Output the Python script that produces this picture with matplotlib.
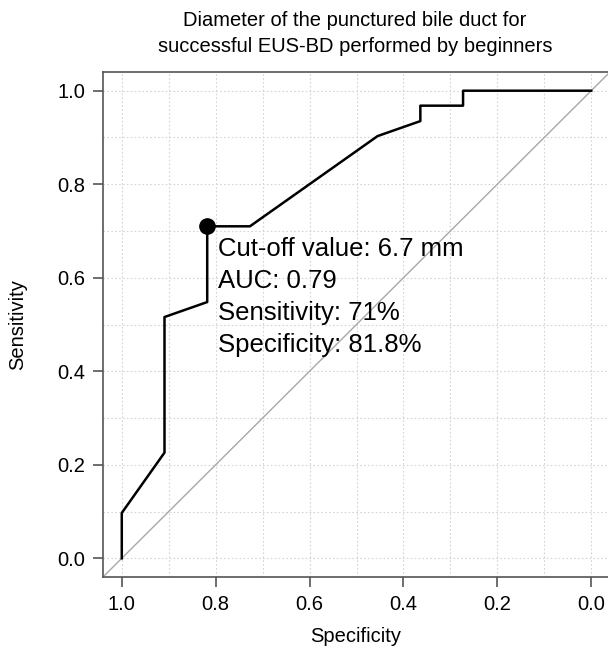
import matplotlib.pyplot as plt
import numpy as np

plt.rcParams["font.family"] = ["Liberation Sans", "DejaVu Sans"]

# ROC curve points (specificity, sensitivity)
specificity = [1.0, 1.0, 0.909, 0.909, 0.818, 0.818, 0.727, 0.455, 0.364, 0.364, 0.273, 0.273, 0.0]
sensitivity = [0.0, 0.097, 0.226, 0.516, 0.548, 0.710, 0.710, 0.903, 0.935, 0.968, 0.968, 1.0, 1.0]
cutoff_spec = 0.818
cutoff_sens = 0.710
ticks = [1.0, 0.8, 0.6, 0.4, 0.2, 0.0]
info = ["Cut-off value: 6.7 mm", "AUC: 0.79", "Sensitivity: 71%", "Specificity: 81.8%"]

W, H = 608, 649
fig = plt.figure(figsize=(W / 100, H / 100), dpi=100)
ax = fig.add_axes([103 / W, 1 - 577 / H, 507 / W, 505 / H])

ax.set_xlim(1.04, -0.04)
ax.set_ylim(-0.04, 1.04)

# dotted grid every 0.1
for g in np.arange(0, 1.01, 0.1):
    ax.axvline(g, color="#d4d4d4", lw=0.8, ls=(0, (1.5, 2)), zorder=0)
    ax.axhline(g, color="#d4d4d4", lw=0.8, ls=(0, (1.5, 2)), zorder=0)

ax.plot([1.04, -0.04], [-0.04, 1.04], color="#a8a8a8", lw=1.0, zorder=1)
ax.plot(specificity, sensitivity, color="black", lw=1.8, zorder=2)
ax.plot(cutoff_spec, cutoff_sens, "o", color="black", ms=11, zorder=3)

for i, t in enumerate(info):
    ax.text(0.795, 0.661 - i * 0.0685, t, fontsize=18.5, va="center", ha="left", zorder=4)

for s in ax.spines.values():
    s.set_color("#555555")
    s.set_linewidth(1.2)

ax.set_xticks(ticks)
ax.set_yticks(ticks)
ax.set_xticklabels(["%.1f" % t for t in ticks])
ax.set_yticklabels(["%.1f" % t for t in ticks])
ax.tick_params(axis="both", direction="out", length=7, width=1.2, color="#555555",
               labelsize=14.5, pad=6)

fig.text(18 / W, 1 - 325 / H, "Sensitivity", rotation=90, ha="center", va="center", fontsize=14.5)
fig.text(356 / W, 1 - 637 / H, "Specificity", ha="center", va="center", fontsize=14.5)
fig.text(355 / W, 1 - 20 / H, "Diameter of the punctured bile duct for",
         ha="center", va="center", fontsize=14.5)
fig.text(355 / W, 1 - 47 / H, "successful EUS-BD performed by beginners",
         ha="center", va="center", fontsize=14.5)

plt.savefig("out.png", dpi=100)
